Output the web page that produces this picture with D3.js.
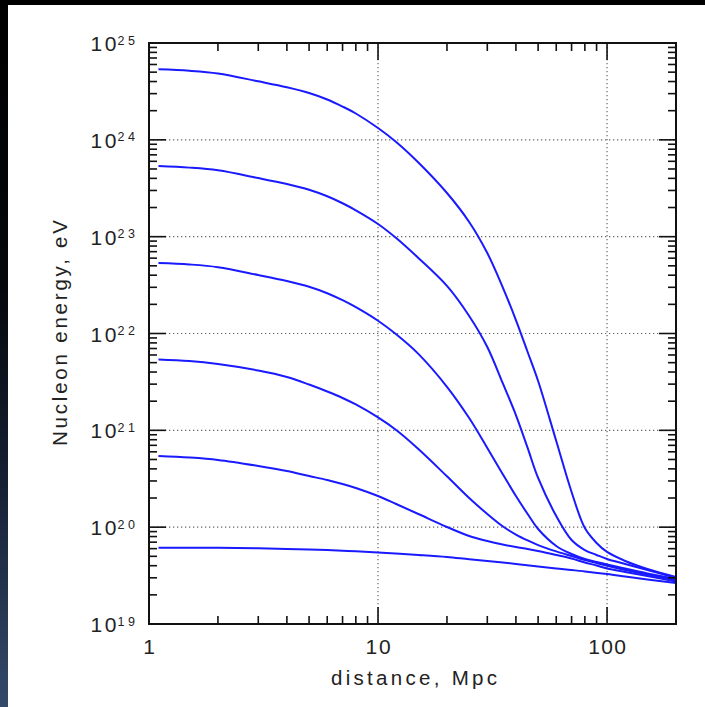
<!DOCTYPE html>
<html>
<head>
<meta charset="utf-8">
<script src="https://cdn.jsdelivr.net/npm/d3@7"></script>
<style>
  html, body { margin: 0; padding: 0; background: #ffffff; }
  svg { display: block; }
  text { font-family: "Liberation Sans", Arial, Helvetica, sans-serif; fill: #222; }
</style>
</head>
<body>
<svg id="chart" width="705" height="707"></svg>
<script>
// Propagation distances (Mpc) at which the nucleon energy is sampled
const distances = [1.1, 1.5, 2, 3, 4, 5, 6, 7, 8, 10, 12, 15, 20, 25, 30, 35, 40, 45, 50,
                   60, 70, 80, 90, 100, 120, 150, 200];
// log10 of nucleon energy (eV) for each injection energy
const lgE_5e24 = [24.728, 24.713, 24.685, 24.604, 24.543, 24.484, 24.417, 24.344, 24.272,
  24.122, 23.978, 23.766, 23.451, 23.152, 22.831, 22.480, 22.139, 21.809, 21.510,
  20.890, 20.363, 19.991, 19.837, 19.744, 19.651, 19.568, 19.485];
const lgE_5e23 = [23.729, 23.713, 23.685, 23.605, 23.543, 23.484, 23.417, 23.345, 23.272,
  23.131, 22.986, 22.780, 22.491, 22.181, 21.861, 21.489, 21.158, 20.818, 20.508,
  20.115, 19.868, 19.764, 19.713, 19.671, 19.620, 19.558, 19.475];
const lgE_5e22 = [22.728, 22.713, 22.685, 22.604, 22.542, 22.483, 22.416, 22.344, 22.272,
  22.132, 21.992, 21.790, 21.450, 21.127, 20.818, 20.549, 20.322, 20.136, 19.981,
  19.806, 19.723, 19.671, 19.640, 19.614, 19.573, 19.522, 19.465];
const lgE_5e21 = [21.732, 21.716, 21.685, 21.618, 21.551, 21.473, 21.401, 21.334, 21.267,
  21.133, 21.003, 20.807, 20.525, 20.301, 20.136, 20.009, 19.924, 19.863, 19.815,
  19.750, 19.702, 19.661, 19.630, 19.602, 19.558, 19.511, 19.454];
const lgE_5e20 = [20.735, 20.719, 20.694, 20.632, 20.580, 20.528, 20.487, 20.446, 20.405,
  20.322, 20.239, 20.136, 20.002, 19.909, 19.857, 19.821, 19.795, 19.775, 19.754,
  19.713, 19.676, 19.635, 19.604, 19.573, 19.537, 19.496, 19.439];
// The lowest track is sampled on its own distance grid
const distances_6e19 = [1.1, 2, 3, 4, 5, 6, 7, 8, 10, 15, 20, 25, 30, 40, 50, 60, 70, 80,
                        100, 120, 150, 200];
const lgE_6e19 = [19.788, 19.787, 19.782, 19.775, 19.769, 19.764, 19.757, 19.751, 19.738,
  19.713, 19.692, 19.668, 19.651, 19.620, 19.594, 19.573, 19.558, 19.542, 19.516,
  19.491, 19.460, 19.423];

// Axis ticks and titles
const xMajorTicks = [1, 10, 100];
const xTickLabels = ["1", "10", "100"];
const yExponents = [19, 20, 21, 22, 23, 24, 25];
const xTitle = "distance, Mpc";
const yTitle = "Nucleon energy, eV";

const zip = (ds, ls) => ds.map((d, i) => [d, Math.pow(10, ls[i])]);
const tracks = [
  zip(distances, lgE_5e24), zip(distances, lgE_5e23), zip(distances, lgE_5e22),
  zip(distances, lgE_5e21), zip(distances, lgE_5e20), zip(distances_6e19, lgE_6e19)
];

const svg = d3.select("#chart");
const W = 705, H = 707;
const plot = { left: 149, right: 676, top: 43, bottom: 624 };

// Page frame: dark strip on top, shaded strip on the left
const defs = svg.append("defs");
const grad = defs.append("linearGradient").attr("id", "edgeShade")
  .attr("x1", 0).attr("y1", 0).attr("x2", 0).attr("y2", 1);
grad.append("stop").attr("offset", "0%").attr("stop-color", "#000000");
grad.append("stop").attr("offset", "40%").attr("stop-color", "#05070b");
grad.append("stop").attr("offset", "70%").attr("stop-color", "#172236");
grad.append("stop").attr("offset", "100%").attr("stop-color", "#344a6b");
svg.append("rect").attr("x", 0).attr("y", 0).attr("width", W).attr("height", H).attr("fill", "#fff");
svg.append("rect").attr("x", 0).attr("y", 0).attr("width", 8).attr("height", H).attr("fill", "url(#edgeShade)");
svg.append("rect").attr("x", 0).attr("y", 0).attr("width", W).attr("height", 5).attr("fill", "#000");

const x = d3.scaleLog().domain([1, 200]).range([plot.left, plot.right]);
const y = d3.scaleLog().domain([1e19, 1e25]).range([plot.bottom, plot.top]);

// Dotted grid at the decades
const grid = svg.append("g").attr("stroke", "#666").attr("stroke-width", 1.2)
  .attr("stroke-dasharray", "1.3,2.7");
[10, 100].forEach(v => grid.append("line")
  .attr("x1", x(v)).attr("x2", x(v)).attr("y1", plot.top).attr("y2", plot.bottom));
yExponents.slice(1, -1).forEach(e => grid.append("line")
  .attr("x1", plot.left).attr("x2", plot.right).attr("y1", y(Math.pow(10, e))).attr("y2", y(Math.pow(10, e))));

// Energy tracks
const line = d3.line().x(d => x(d[0])).y(d => y(d[1])).curve(d3.curveCatmullRom.alpha(0.5));
svg.append("g").selectAll("path").data(tracks).join("path")
  .attr("d", line).attr("fill", "none").attr("stroke", "#1a1aff")
  .attr("stroke-width", 2).attr("stroke-linejoin", "round");

// Inward ticks on all four sides
const majorLen = 17, minorLen = 8;
const ticks = svg.append("g").attr("stroke", "#111").attr("stroke-width", 1.6);
const xAll = [];
for (let dec = 1; dec <= 100; dec *= 10) for (let m = 1; m <= 9; m++) {
  const v = dec * m; if (v > 1 && v < 200) xAll.push(v);
}
xAll.forEach(v => {
  const len = xMajorTicks.includes(v) ? majorLen : minorLen;
  ticks.append("line").attr("x1", x(v)).attr("x2", x(v)).attr("y1", plot.bottom).attr("y2", plot.bottom - len);
  ticks.append("line").attr("x1", x(v)).attr("x2", x(v)).attr("y1", plot.top).attr("y2", plot.top + len);
});
yExponents.forEach((e, i) => {
  const base = Math.pow(10, e);
  if (i > 0 && i < yExponents.length - 1) {
    ticks.append("line").attr("x1", plot.left).attr("x2", plot.left + majorLen).attr("y1", y(base)).attr("y2", y(base));
    ticks.append("line").attr("x1", plot.right).attr("x2", plot.right - majorLen).attr("y1", y(base)).attr("y2", y(base));
  }
  if (e < 25) for (let m = 2; m <= 9; m++) {
    const yy = y(base * m);
    ticks.append("line").attr("x1", plot.left).attr("x2", plot.left + minorLen).attr("y1", yy).attr("y2", yy);
    ticks.append("line").attr("x1", plot.right).attr("x2", plot.right - minorLen).attr("y1", yy).attr("y2", yy);
  }
});

// Frame
svg.append("rect").attr("x", plot.left).attr("y", plot.top)
  .attr("width", plot.right - plot.left).attr("height", plot.bottom - plot.top)
  .attr("fill", "none").attr("stroke", "#111").attr("stroke-width", 2);

// Tick labels
xMajorTicks.forEach((v, i) => {
  svg.append("text").attr("x", x(v)).attr("y", 654).attr("text-anchor", "middle")
    .attr("font-size", 21)
    .attr("textLength", xTickLabels[i].length * 12.6).attr("lengthAdjust", "spacing")
    .text(xTickLabels[i]);
});
yExponents.forEach(e => {
  const yy = y(Math.pow(10, e));
  svg.append("text").attr("x", 90.5).attr("y", yy + 8).attr("font-size", 21)
    .attr("textLength", 26).attr("lengthAdjust", "spacing").text("10");
  svg.append("text").attr("x", 117.5).attr("y", yy + 1.5).attr("font-size", 12.5)
    .attr("textLength", 17.5).attr("lengthAdjust", "spacing").text(String(e));
});

// Axis titles
svg.append("text").attr("x", 331).attr("y", 685).attr("font-size", 20.5)
  .attr("textLength", 166).attr("lengthAdjust", "spacing").text(xTitle);
svg.append("text").attr("transform", "translate(67,446) rotate(-90)")
  .attr("font-size", 20.5).attr("textLength", 226).attr("lengthAdjust", "spacing").text(yTitle);
</script>
</body>
</html>
